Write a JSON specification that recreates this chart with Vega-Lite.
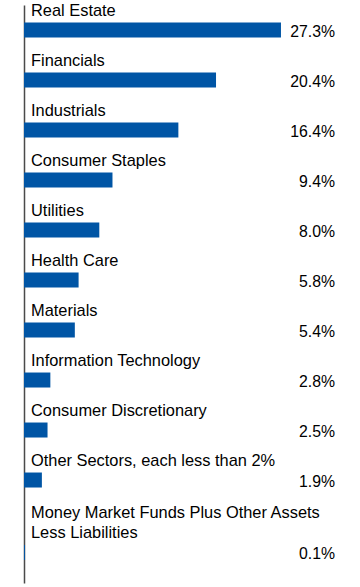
{
  "$schema": "https://vega.github.io/schema/vega-lite/v6.json",
  "width": 311,
  "height": 578,
  "autosize": {"type": "none"},
  "padding": {"left": 24, "top": 5, "right": 25, "bottom": 4},
  "background": "white",
  "config": {"view": {"stroke": null}, "text": {"font": "Liberation Sans", "fontSize": 16.4, "color": "#000000"}},
  "data": {
    "values": [
      {"sector": "Real Estate", "label": "Real Estate", "pct": 27.3, "last": false},
      {"sector": "Financials", "label": "Financials", "pct": 20.4, "last": false},
      {"sector": "Industrials", "label": "Industrials", "pct": 16.4, "last": false},
      {"sector": "Consumer Staples", "label": "Consumer Staples", "pct": 9.4, "last": false},
      {"sector": "Utilities", "label": "Utilities", "pct": 8.0, "last": false},
      {"sector": "Health Care", "label": "Health Care", "pct": 5.8, "last": false},
      {"sector": "Materials", "label": "Materials", "pct": 5.4, "last": false},
      {"sector": "Information Technology", "label": "Information Technology", "pct": 2.8, "last": false},
      {"sector": "Consumer Discretionary", "label": "Consumer Discretionary", "pct": 2.5, "last": false},
      {"sector": "Other Sectors, each less than 2%", "label": "Other Sectors, each less than 2%", "pct": 1.9, "last": false},
      {"sector": "Money Market Funds Plus Other Assets Less Liabilities", "label": "Money Market Funds Plus Other Assets\nLess Liabilities", "pct": 0.1, "last": true}
    ]
  },
  "transform": [{"calculate": "format(datum.pct, '.1f') + '%'", "as": "pctText"}],
  "encoding": {
    "y": {
      "field": "sector",
      "type": "nominal",
      "sort": null,
      "scale": {"paddingInner": 0.7, "paddingOuter": 0.63, "align": 0.278},
      "axis": {"title": null, "labels": false, "ticks": false, "grid": false, "domain": true, "domainColor": "#4a4a4a", "domainWidth": 1.5}
    }
  },
  "layer": [
    {
      "transform": [{"filter": "!datum.last"}],
      "mark": {"type": "bar", "color": "#0055A5"},
      "encoding": {
        "x": {"field": "pct", "type": "quantitative", "scale": {"domain": [0, 33.04], "nice": false}, "axis": null}
      }
    },
    {
      "transform": [{"filter": "datum.last"}],
      "mark": {"type": "bar", "color": "#0055A5", "yOffset": 22.5},
      "encoding": {
        "x": {"field": "pct", "type": "quantitative", "axis": null}
      }
    },
    {
      "transform": [{"filter": "!datum.last"}],
      "mark": {"type": "text", "align": "left", "baseline": "alphabetic", "dx": 7, "dy": -6.7},
      "encoding": {
        "x": {"datum": 0, "type": "quantitative"},
        "y": {"field": "sector", "type": "nominal", "sort": null, "bandPosition": 0},
        "text": {"field": "label"}
      }
    },
    {
      "transform": [{"filter": "datum.last"}],
      "mark": {"type": "text", "align": "left", "baseline": "alphabetic", "dx": 7, "dy": -4.2, "lineBreak": "\n", "lineHeight": 20},
      "encoding": {
        "x": {"datum": 0, "type": "quantitative"},
        "y": {"field": "sector", "type": "nominal", "sort": null, "bandPosition": 0},
        "text": {"field": "label"}
      }
    },
    {
      "transform": [{"filter": "!datum.last"}],
      "mark": {"type": "text", "align": "right", "baseline": "alphabetic", "dy": -0.3, "fontSize": 15.8},
      "encoding": {
        "x": {"datum": 33.04, "type": "quantitative"},
        "y": {"field": "sector", "type": "nominal", "sort": null, "bandPosition": 1},
        "text": {"field": "pctText"}
      }
    },
    {
      "transform": [{"filter": "datum.last"}],
      "mark": {"type": "text", "align": "right", "baseline": "alphabetic", "dy": 21.5, "fontSize": 15.8},
      "encoding": {
        "x": {"datum": 33.04, "type": "quantitative"},
        "y": {"field": "sector", "type": "nominal", "sort": null, "bandPosition": 1},
        "text": {"field": "pctText"}
      }
    }
  ]
}
